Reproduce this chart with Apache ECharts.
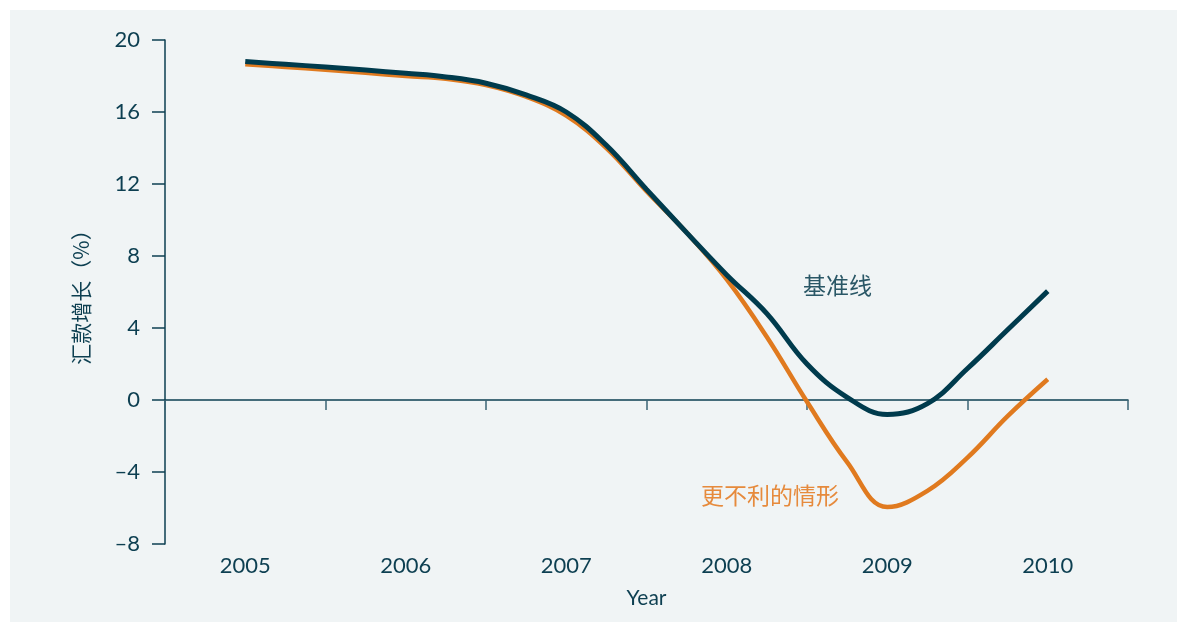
<!DOCTYPE html>
<html>
<head>
<meta charset="utf-8">
<script src="https://cdn.jsdelivr.net/npm/echarts@6/dist/echarts.min.js"></script>
<style>
  html, body { margin: 0; padding: 0; background: #ffffff; }
  #chart { width: 1177px; height: 622px; }
</style>
</head>
<body>
<div id="chart"></div>
<script>
// Year labels on the category axis
const years = ['2005', '2006', '2007', '2008', '2009', '2010'];

// Quarterly time points shared by both scenarios
const quarters = [
  2005.0, 2005.25, 2005.5, 2005.75, 2006.0, 2006.25, 2006.5, 2006.75,
  2007.0, 2007.25, 2007.5, 2007.75, 2008.0, 2008.25, 2008.5, 2008.75,
  2009.0, 2009.25, 2009.5, 2009.75, 2010.0
];

// Remittance growth (%), baseline scenario
const baselineValues = [
  18.8, 18.65, 18.5, 18.33, 18.15, 17.95, 17.6, 16.95,
  16.0, 14.15, 11.7, 9.3, 6.95, 4.8, 2.0, 0.15,
  -0.8, -0.2, 1.75, 3.9, 6.05
];

// Remittance growth (%), less favourable scenario
const downsideValues = [
  18.65, 18.5, 18.35, 18.18, 18.0, 17.85, 17.5, 16.85,
  15.8, 14.0, 11.6, 9.3, 6.7, 3.5, -0.1, -3.45,
  -5.95, -5.05, -3.2, -0.9, 1.15
];

// Series names and where their in-chart labels sit (data coordinates)
const baselineName = '基准线';
const downsideName = '更不利的情形';
const baselineLabelAt = [2008.69, 6.4];
const downsideLabelAt = [2008.27, -5.3];

const ink = '#0d3f51';
const navy = '#003b4d';
const orange = '#e07a1f';
const tickFont = 'Lato, "Open Sans", sans-serif';
const cjkFont = '"Noto Sans CJK SC", sans-serif';

const pairs = values => quarters.map((t, i) => [t, values[i]]);

function seriesLabel(name, at, color) {
  return {
    symbol: 'rect',
    symbolSize: 1,
    itemStyle: { color: 'rgba(0,0,0,0)' },
    data: [{ coord: at, value: name }],
    label: {
      show: true, position: 'inside', formatter: name,
      color: color, fontSize: 23, fontFamily: cjkFont
    }
  };
}

const chart = echarts.init(document.getElementById('chart'));
chart.setOption({
  animation: false,
  backgroundColor: '#ffffff',
  graphic: [{
    type: 'rect',
    left: 10, top: 10,
    shape: { width: 1167, height: 612 },
    style: { fill: '#f0f4f5' },
    z: -10, silent: true
  }],
  grid: { left: 165, right: 49, top: 40, bottom: 78 },
  xAxis: [
    {
      type: 'category',
      data: years,
      position: 'bottom',
      boundaryGap: true,
      axisLine: { show: false, onZero: false },
      axisTick: { show: false },
      axisLabel: { color: ink, fontSize: 22, fontFamily: tickFont, margin: 11 },
      name: 'Year',
      nameLocation: 'middle',
      nameGap: 44,
      nameTextStyle: { color: ink, fontSize: 21, fontFamily: tickFont }
    },
    {
      type: 'value',
      position: 'bottom',
      min: 2004.5, max: 2010.5, interval: 1,
      axisLine: { show: true, onZero: true, lineStyle: { color: ink, width: 1.5 } },
      axisTick: { show: true, inside: false, length: 10, lineStyle: { color: '#3b6475', width: 1.5 } },
      axisLabel: { show: false },
      splitLine: { show: false }
    }
  ],
  yAxis: {
    type: 'value',
    min: -8, max: 20, interval: 4,
    axisLine: { show: true, lineStyle: { color: ink, width: 1.5 } },
    axisTick: { show: true, inside: false, length: 13, lineStyle: { color: ink, width: 1.5 } },
    axisLabel: {
      color: ink, fontSize: 22, fontFamily: tickFont, margin: 25,
      formatter: v => String(v).replace('-', '\u2013')
    },
    splitLine: { show: false },
    name: '汇款增长（%）',
    nameLocation: 'middle',
    nameGap: 73,
    nameTextStyle: { color: ink, fontSize: 21, fontFamily: cjkFont }
  },
  series: [
    {
      name: downsideName,
      type: 'line',
      xAxisIndex: 1,
      data: pairs(downsideValues),
      smooth: 0.4,
      showSymbol: false,
      lineStyle: { color: orange, width: 4.5 },
      markPoint: seriesLabel(downsideName, downsideLabelAt, '#e68a3c')
    },
    {
      name: baselineName,
      type: 'line',
      xAxisIndex: 1,
      data: pairs(baselineValues),
      smooth: 0.4,
      showSymbol: false,
      lineStyle: { color: navy, width: 5 },
      markPoint: seriesLabel(baselineName, baselineLabelAt, '#2a5766')
    }
  ]
});
</script>
</body>
</html>
